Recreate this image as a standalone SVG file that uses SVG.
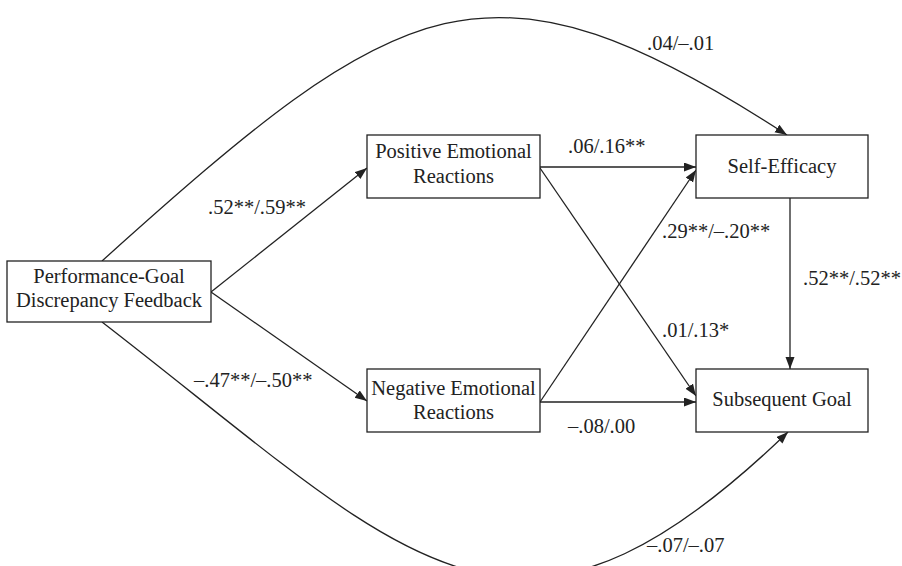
<svg xmlns="http://www.w3.org/2000/svg" width="902" height="566" viewBox="0 0 902 566">
<style>
.box{fill:#fff;stroke:#222;stroke-width:1.3}
text{font-family:'Liberation Serif','DejaVu Serif',serif;font-size:20.5px;fill:#222}
.ctr{text-anchor:middle}
.c{fill:none;stroke:#222;stroke-width:1.3}
</style>
<defs>
<marker id="ah" markerUnits="userSpaceOnUse" markerWidth="13" markerHeight="10" refX="12" refY="4.5" orient="auto">
<path d="M0,0 L12,4.5 L0,9 z" fill="#222"/>
</marker>
</defs>
<g id="connectors">
<path class="c" d="M102,261 C402,-9 487,-60 787,135" marker-end="url(#ah)"/>
<path class="c" d="M102,322 C410,560 510,700 788,432" marker-end="url(#ah)"/>
<line class="c" x1="211" y1="292" x2="367" y2="168" marker-end="url(#ah)"/>
<line class="c" x1="211" y1="292" x2="367" y2="401" marker-end="url(#ah)"/>
<line class="c" x1="540" y1="167" x2="696" y2="167" marker-end="url(#ah)"/>
<line class="c" x1="540" y1="168" x2="696" y2="396" marker-end="url(#ah)"/>
<line class="c" x1="540" y1="402" x2="696" y2="170" marker-end="url(#ah)"/>
<line class="c" x1="540" y1="402" x2="696" y2="402" marker-end="url(#ah)"/>
<line class="c" x1="790" y1="198" x2="790" y2="369" marker-end="url(#ah)"/>
</g>
<g id="labels">
<text font-family="Liberation Serif, serif" x="647" y="50">.04/–.01</text>
<text font-family="Liberation Serif, serif" x="568" y="153">.06/.16**</text>
<text font-family="Liberation Serif, serif" x="208" y="214">.52**/.59**</text>
<text font-family="Liberation Serif, serif" x="662" y="238">.29**/–.20**</text>
<text font-family="Liberation Serif, serif" x="803" y="285">.52**/.52**</text>
<text font-family="Liberation Serif, serif" x="662" y="337">.01/.13*</text>
<text font-family="Liberation Serif, serif" x="194" y="387">–.47**/–.50**</text>
<text font-family="Liberation Serif, serif" x="568" y="433">–.08/.00</text>
<text font-family="Liberation Serif, serif" x="647" y="552">–.07/–.07</text>
</g>
<g id="pgd">
<rect class="box" x="7" y="261" width="204" height="61"/>
<text class="ctr" x="109" y="283">Performance-Goal</text>
<text class="ctr" x="109" y="307">Discrepancy Feedback</text>
</g>
<g id="positive">
<rect class="box" x="367" y="135" width="173" height="63"/>
<text class="ctr" x="453.5" y="158">Positive Emotional</text>
<text class="ctr" x="453.5" y="183">Reactions</text>
</g>
<g id="negative">
<rect class="box" x="367" y="369" width="173" height="63"/>
<text class="ctr" x="453.5" y="395">Negative Emotional</text>
<text class="ctr" x="453.5" y="419">Reactions</text>
</g>
<g id="selfefficacy">
<rect class="box" x="696" y="135" width="172" height="63"/>
<text class="ctr" x="782" y="173">Self-Efficacy</text>
</g>
<g id="subsequent">
<rect class="box" x="696" y="369" width="172" height="63"/>
<text class="ctr" x="782" y="406">Subsequent Goal</text>
</g>
</svg>
